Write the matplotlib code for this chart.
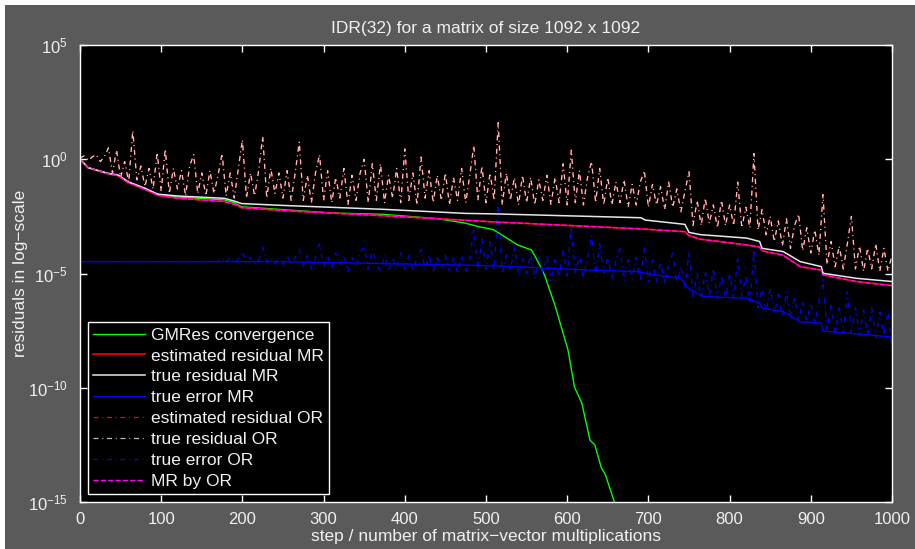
import numpy as np
import matplotlib
matplotlib.use('Agg')
import matplotlib.pyplot as plt
from matplotlib.patches import Rectangle
from matplotlib.ticker import NullLocator

plt.rcParams['font.family'] = ['Liberation Sans', 'DejaVu Sans']
plt.rcParams['mathtext.fontset'] = 'custom'
plt.rcParams['mathtext.rm'] = 'Liberation Sans'
plt.rcParams['mathtext.it'] = 'Liberation Sans:italic'

# %% data (values are log10 of the residual / error)

# GMRes convergence
gmres_steps = [0, 10, 34, 47, 59, 80, 96, 121, 178, 190, 199, 256, 310, 373, 440,
               475, 491, 509, 523, 539, 556, 564, 572, 585, 601, 609, 618, 628,
               634, 642, 647, 660]
gmres_log = [0.0, -0.37, -0.63, -0.72, -1.0, -1.3, -1.56, -1.66, -1.78, -1.9,
             -2.08, -2.22, -2.35, -2.41, -2.6, -2.8, -2.95, -3.08, -3.39, -3.75,
             -3.97, -4.48, -5.06, -6.4, -8.35, -9.97, -10.67, -12.29, -12.5,
             -13.5, -13.8, -15.2]

# estimated residual MR (MR by OR lies on top of it)
est_mr_steps = [0, 10, 34, 47, 59, 80, 96, 121, 178, 190, 199, 256, 373, 509, 691,
                745, 750, 764, 821, 837, 840, 866, 887, 913, 915, 956, 1000]
est_mr_log = [0.0, -0.37, -0.63, -0.72, -1.02, -1.32, -1.58, -1.71, -1.85, -1.97,
              -2.12, -2.26, -2.47, -2.74, -3.05, -3.17, -3.34, -3.5, -3.75, -3.85,
              -4.01, -4.2, -4.7, -4.85, -5.06, -5.35, -5.53]

# true residual MR
true_mr_steps = [0, 10, 34, 47, 59, 80, 96, 121, 178, 190, 199, 256, 373, 475, 509,
                 691, 696, 745, 750, 764, 821, 837, 840, 866, 887, 913, 915, 956, 1000]
true_mr_log = [0.0, -0.37, -0.61, -0.69, -0.98, -1.27, -1.53, -1.61, -1.71, -1.83,
               -1.94, -2.03, -2.19, -2.37, -2.39, -2.56, -2.66, -2.85, -3.2, -3.3,
               -3.45, -3.6, -3.9, -4.04, -4.48, -4.7, -4.99, -5.21, -5.35]

# true error MR
err_mr_steps = [0, 250, 509, 626, 687, 707, 740, 749, 768, 821, 837, 840, 866, 887,
                913, 915, 998, 1000]
err_mr_log = [-4.48, -4.48, -4.66, -4.85, -4.92, -5.06, -5.21, -5.65, -6.01, -6.08,
              -6.3, -6.52, -6.67, -7.11, -7.17, -7.52, -7.77, -8.1]

# OR variants, one value every 5 steps
or_steps = np.arange(0, 1001, 5)

# true residual OR (estimated residual OR coincides with it at this resolution)
res_or_log = [
    0.05, 0.15, -0.05, 0.1, 0.2, -0.1, 0.1, 0.5, -0.6, 0.4,
    -0.8, -0.1, -1.0, 1.25, -0.9, -0.3, -1.2, -0.4, -1.3, 0.3,
    -1.4, 0.45, -1.5, -0.4, -1.3, -0.5, -1.6, -0.3, 0.2, -1.5,
    -0.6, -1.6, -0.5, -1.5, -0.7, 0.25, -1.6, -0.6, -1.7, -0.4,
    0.85, -1.7, -0.6, -1.6, -0.5, 1.0, -1.7, -0.4, -1.5, -0.6,
    -1.7, -0.5, -1.8, -0.6, 0.75, -1.8, -0.7, -1.9, -0.6, 0.2,
    -1.8, -0.5, -1.9, -0.8, -1.7, -0.4, -2.0, -0.7, -1.8, -0.6,
    0.0, -1.9, -0.2, -1.8, -0.2, -1.9, -0.7, -1.7, -0.4, -1.9,
    0.45, -1.8, -0.6, -2.0, 0.1, -1.7, -0.5, -1.9, -0.7, -1.8,
    -0.6, -2.0, -0.8, -1.8, -0.4, -1.9, -0.7, 0.6, -1.8, -0.3,
    -1.9, -0.6, -1.8, 1.6, -2.0, -0.6, -1.8, -0.8, -2.0, -0.7,
    -1.9, -0.8, -2.0, -0.9, -1.8, -0.7, -2.0, -0.8, -1.9, -0.2,
    -2.0, 0.4, -1.9, -0.5, -2.0, -0.8, -0.1, -1.9, -0.4, -2.0,
    -0.8, -2.0, -1.0, -1.9, -0.9, -2.1, -1.1, -2.0, -1.0, -0.5,
    -2.1, -1.1, -2.0, -1.2, -2.2, -1.0, -2.1, -1.3, -2.3, -1.4,
    -0.55, -2.9, -1.8, -2.9, -1.7, -2.8, -2.0, -3.0, -1.8, -2.9,
    -2.0, -2.9, -1.0, -3.0, -2.1, -3.0, 0.25, -3.1, -2.2, -3.3,
    -2.5, -3.6, -2.7, -3.8, -2.6, -3.9, -2.9, -2.4, -4.0, -3.0,
    -4.1, -3.1, -4.2, -1.55, -4.6, -3.6, -4.7, -3.8, -4.8, -3.7,
    -2.5, -4.8, -3.8, -4.9, -3.9, -4.8, -3.7, -4.9, -3.9, -4.9, -4.2,
]

# true error OR
err_or_log = [
    -4.48, -4.48, -4.48, -4.48, -4.48, -4.48, -4.48, -4.48, -4.48, -4.48,
    -4.48, -4.48, -4.48, -4.48, -4.48, -4.48, -4.48, -4.48, -4.48, -4.48,
    -4.48, -4.48, -4.48, -4.48, -4.48, -4.48, -4.48, -4.48, -4.48, -4.48,
    -4.48, -4.48, -4.48, -4.48, -4.48,
    -4.35, -4.5, -4.3, -4.5, -4.4, -4.05, -4.5, -4.3, -4.55, -4.4,
    -3.85, -4.5, -4.35, -4.55, -4.3,
    -4.6, -4.2, -4.6, -4.3, -3.9, -4.7, -4.2, -4.8, -4.3, -3.7,
    -4.7, -4.2, -4.8, -4.1, -4.6, -4.2, -4.9, -4.3, -4.7, -4.1,
    -3.8, -4.8, -3.95, -4.6, -4.9, -4.2, -4.9, -4.3, -4.8, -4.1,
    -4.8, -4.2, -4.9, -4.3, -3.95, -4.8, -4.2, -4.9, -4.3, -4.8,
    -4.2, -4.9, -4.3, -5.0, -4.2, -4.9, -4.4, -3.0, -4.9, -3.5,
    -4.8, -3.6, -4.9, -1.9, -5.0, -4.2, -4.9, -3.8, -5.1, -4.3,
    -5.0, -4.1, -5.2, -4.3, -5.0, -4.2, -5.3, -4.4, -5.1, -4.0,
    -5.1, -2.95, -5.0, -4.2, -5.2, -4.3, -3.35, -5.1, -3.7, -5.0,
    -4.3, -5.2, -4.4, -3.9, -5.3, -4.4, -5.2, -4.3, -5.3, -3.9,
    -5.3, -4.4, -5.4, -4.5, -5.4, -4.6, -4.1, -5.4, -4.7, -5.6,
    -4.05, -6.0, -5.0, -6.1, -4.9, -6.0, -4.8, -6.1, -5.1, -6.1,
    -5.0, -6.1, -4.3, -6.0, -5.1, -6.3, -3.96, -6.5, -5.6, -6.7,
    -5.6, -6.8, -5.9, -6.9, -5.8, -7.0, -6.0, -7.1, -6.2, -7.1,
    -6.3, -7.2, -6.2, -5.3, -7.5, -6.4, -7.6, -6.5, -7.6, -5.8,
    -7.6, -6.5, -7.7, -6.6, -7.7, -6.5, -7.8, -6.7, -7.7, -6.6, -8.1,
]

# %% plot

bg = '#5a5a5a'
txt = '#f0f0f0'
dashdot = (0, (4.0, 3.0, 0.8, 3.0))

fig = plt.figure(figsize=(9.15, 5.49), dpi=100, facecolor='white')
fig.patches.append(Rectangle((5 / 915, 0), 1, 544 / 549, transform=fig.transFigure,
                             facecolor=bg, edgecolor='none', zorder=-10))
ax = fig.add_axes([80 / 915, 47 / 549, 812 / 915, 457 / 549])
ax.set_zorder(5)
ax.set_facecolor('black')


def p10(v):
    return 10.0 ** np.asarray(v)


ax.plot(gmres_steps, p10(gmres_log), color='#00ff00', lw=1.0, label='GMRes convergence')
ax.plot(est_mr_steps, p10(est_mr_log), color='#ff0000', lw=1.2, label='estimated residual MR')
ax.plot(true_mr_steps, p10(true_mr_log), color='#e8e8e8', lw=1.1, label='true residual MR')
ax.plot(err_mr_steps, p10(err_mr_log), color='#0000ff', lw=1.0, label='true error MR')
ax.plot(or_steps, p10(res_or_log), color='#ff0000', lw=0.9, ls=dashdot, label='estimated residual OR')
ax.plot(or_steps, p10(res_or_log), color='white', alpha=0.75, lw=0.9, ls=dashdot, label='true residual OR')
ax.plot(or_steps, p10(err_or_log), color='#0000ff', lw=0.9, ls=dashdot, label='true error OR')
ax.plot(est_mr_steps, p10(est_mr_log), color='#ff00ff', lw=1.0, ls='--', label='MR by OR')

ax.set_yscale('log')
ax.set_xlim(0, 1000)
ax.set_ylim(1e-15, 1e5)
ax.set_xticks(range(0, 1001, 100))
ax.set_yticks([1e-15, 1e-10, 1e-5, 1e0, 1e5])
ax.yaxis.set_minor_locator(NullLocator())
ax.tick_params(which='major', direction='in', top=True, right=True, length=5, width=1,
               color='white', labelcolor=txt, labelsize=12)
ax.tick_params(axis='y', pad=9)
ax.tick_params(axis='x', pad=7)
for s in ax.spines.values():
    s.set_color('white')
    s.set_linewidth(1)

ax.set_title('IDR(32) for a matrix of size 1092 x 1092', color=txt, fontsize=12.5, pad=9)
ax.set_xlabel('step / number of matrix\u2212vector multiplications', color=txt, fontsize=12.5, labelpad=2)
ax.set_ylabel('residuals in log\u2212scale', color=txt, fontsize=12.5)
ax.yaxis.set_label_coords(-0.064, 0.5)

leg = ax.legend(loc='lower left', bbox_to_anchor=(0.0099, 0.0175), borderaxespad=0,
                fontsize=12.5, labelspacing=0.33, handlelength=3.0, handletextpad=0.3,
                borderpad=0.3, fancybox=False, framealpha=1, facecolor='black',
                edgecolor='white')
leg.get_frame().set_linewidth(1)
for t in leg.get_texts():
    t.set_color(txt)

fig.savefig('out.png', dpi=100, facecolor=fig.get_facecolor())
